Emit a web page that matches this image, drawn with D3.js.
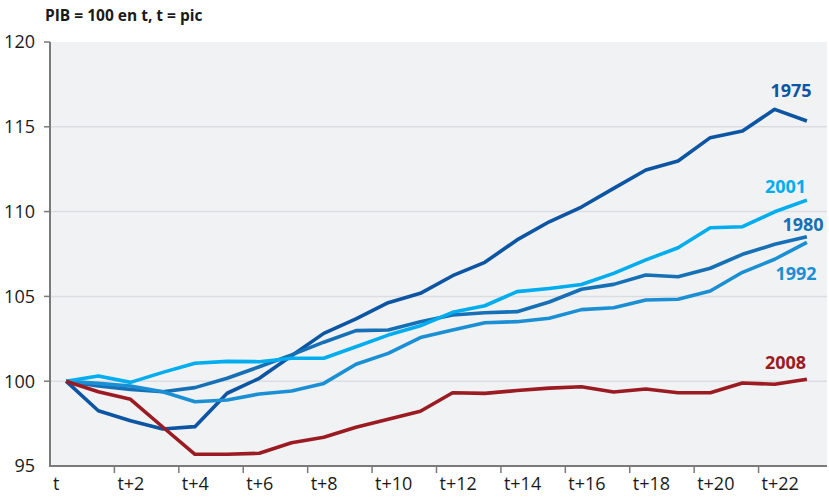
<!DOCTYPE html>
<html><head><meta charset="utf-8">
<script src="https://cdn.jsdelivr.net/npm/d3@7"></script>
<style>body{margin:0;background:#fff;} text{font-family:"Open Sans",sans-serif;}</style>
</head><body><svg id="c" width="829" height="497"></svg>
<script>
const categories = ["t","t+1","t+2","t+3","t+4","t+5","t+6","t+7","t+8","t+9","t+10","t+11","t+12","t+13","t+14","t+15","t+16","t+17","t+18","t+19","t+20","t+21","t+22","t+23"];
const xTickLabels = ["t","t+2","t+4","t+6","t+8","t+10","t+12","t+14","t+16","t+18","t+20","t+22"];
const yTicks = [95,100,105,110,115,120];
const s1975 = [100,98.26,97.67,97.18,97.32,99.29,100.17,101.5,102.82,103.67,104.63,105.18,106.22,107.01,108.33,109.4,110.27,111.37,112.45,112.98,114.36,114.75,116.03,115.34];
const s1980 = [100,99.72,99.52,99.38,99.62,100.17,100.85,101.55,102.3,102.98,103.02,103.51,103.9,104.04,104.1,104.67,105.42,105.71,106.26,106.16,106.66,107.48,108.07,108.52];
const s1992 = [100,99.87,99.72,99.38,98.79,98.89,99.25,99.42,99.87,101.0,101.64,102.57,103.02,103.45,103.51,103.71,104.22,104.33,104.79,104.83,105.32,106.42,107.19,108.19];
const s2001 = [100,100.31,99.93,100.52,101.06,101.17,101.15,101.35,101.35,102.03,102.72,103.27,104.06,104.45,105.28,105.47,105.7,106.36,107.15,107.87,109.05,109.11,109.99,110.68];
const s2008 = [100,99.38,98.93,97.3,95.69,95.69,95.75,96.37,96.69,97.28,97.75,98.23,99.32,99.28,99.45,99.59,99.67,99.36,99.54,99.32,99.32,99.89,99.82,100.12];
const seriesNames = ["1975","1980","1992","2001","2008"];
const seriesData = [s1975,s1980,s1992,s2001,s2008];
const colors = ["#0b55a3","#1570b6","#1a8fd4","#00adee","#9b1b22"];
const labelPos = [[791,91],[803,224.5],[796,273.5],[785.5,187],[785.5,362.5]];

const svg = d3.select("#c");
const L=50, R=823, T=42, B=466;
const x = d3.scaleBand().domain(categories).range([L,R]);
const y = d3.scaleLinear().domain([95,120]).range([B,T]);

svg.append("rect").attr("x",L).attr("y",T).attr("width",827-L).attr("height",B-T).attr("fill","#f1f2f4");

svg.append("g").selectAll("line").data(yTicks.filter(d=>d>95&&d<120)).join("line")
  .attr("x1",L).attr("x2",827).attr("y1",d=>y(d)).attr("y2",d=>y(d))
  .attr("stroke","#dcdde0").attr("stroke-width",1.5);

const line = d3.line().x((d,i)=>x(categories[i])+x.bandwidth()/2).y(d=>y(d));
seriesData.forEach((s,k)=>{
  svg.append("path").datum(s).attr("d",line).attr("fill","none")
    .attr("stroke",colors[k]).attr("stroke-width",3.6).attr("stroke-linejoin","round");
});

// axes
svg.append("line").attr("x1",L).attr("x2",827).attr("y1",B).attr("y2",B).attr("stroke","#7a7a7a").attr("stroke-width",2);
svg.append("line").attr("x1",L).attr("x2",L).attr("y1",T).attr("y2",B+1).attr("stroke","#7a7a7a").attr("stroke-width",2);

svg.append("g").selectAll("line").data(yTicks.filter(d=>d>95)).join("line")
  .attr("x1",L-6).attr("x2",L).attr("y1",d=>y(d)).attr("y2",d=>y(d)).attr("stroke","#7a7a7a").attr("stroke-width",1.5);
svg.append("g").selectAll("text").data(yTicks).join("text")
  .attr("x",35).attr("y",d=>y(d)).attr("dy","0.35em").attr("text-anchor","end")
  .attr("font-size",18).attr("fill","#1a1a1a").text(d=>d);

svg.append("g").selectAll("line").data(xTickLabels.slice(1)).join("line")
  .attr("x1",d=>x(d)).attr("x2",d=>x(d)).attr("y1",B).attr("y2",B+7).attr("stroke","#7a7a7a").attr("stroke-width",1.5);
svg.append("g").selectAll("text").data(xTickLabels).join("text")
  .attr("x",d=>x(d)+3).attr("y",490).attr("font-size",18).attr("fill","#1a1a1a").text(d=>d);

svg.append("text").attr("x",45).attr("y",21).attr("font-size",15.5).attr("font-weight","bold").attr("fill","#1a1a1a").text("PIB = 100 en t, t = pic");

seriesNames.forEach((n,k)=>{
  svg.append("text").attr("x",labelPos[k][0]).attr("y",labelPos[k][1]).attr("dy","0.35em")
    .attr("text-anchor","middle").attr("font-size",18).attr("font-weight","bold").attr("fill",colors[k]).text(n);
});
</script></body></html>
